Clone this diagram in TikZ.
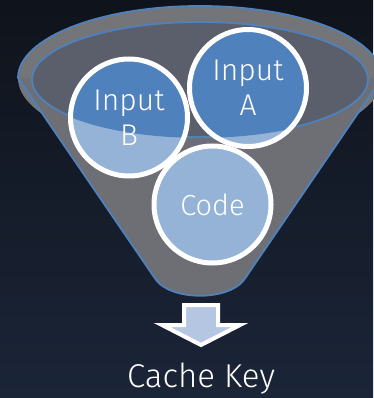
\documentclass[tikz,border=0pt]{standalone}
\usepackage{fontspec}
\setmainfont{Fira Sans}[UprightFont={* Light}]
\definecolor{bgtop}{HTML}{0F131B}
\definecolor{bgbot}{HTML}{1B2538}
\definecolor{rim}{HTML}{737578}
\definecolor{innerfill}{HTML}{5A5F6B}
\definecolor{body}{HTML}{6D6F74}
\definecolor{fline}{HTML}{4F81BD}
\definecolor{darkblue}{HTML}{4F81BD}
\definecolor{lightblue}{HTML}{95B3D7}
\definecolor{arrowfill}{HTML}{B4C6E1}
\tikzset{
  funnelline/.style={draw=fline, line width=1.8pt},
  ring/.style={circle, draw=white, line width=5pt, minimum size=117pt, inner sep=0pt,
    text=white, align=center, font=\fontsize{30}{35}\selectfont},
  keyarrow/.style={draw=white, fill=arrowfill, line width=4pt, line join=miter},
  caption/.style={text=white, font=\fontsize{33}{38}\selectfont, inner sep=0pt}
}
\begin{document}
\begin{tikzpicture}[x=1pt,y=-1pt]
\useasboundingbox (0,0) rectangle (373,398);
\shade[top color=bgtop, bottom color=bgbot] (0,0) rectangle (373,398);
% centres
\coordinate (cA) at (248,88);
\coordinate (cB) at (129,117.5);
\coordinate (cC) at (212.5,204.5);
\coordinate (ec) at (200,79.5);
% funnel body
\path[fill=rim] (200,78) ellipse [x radius=182, y radius=72];
\path[fill=body] (18,78) -- (382,78) -- (246,277) .. controls (232,302) and (168,302) .. (154,277) -- cycle;
\path[fill=innerfill] (ec) ellipse [x radius=168, y radius=57.5];
\draw[funnelline] (18,78) arc [start angle=180, end angle=360, x radius=182, y radius=72]
  -- (246,277) .. controls (232,302) and (168,302) .. (154,277) -- cycle;
% circle fills
\foreach \c in {cA,cB,cC} \fill[lightblue] (\c) circle (58.5);
\begin{scope}
  \clip (ec) ellipse [x radius=168, y radius=57.5];
  \foreach \c in {cA,cB,cC} \fill[darkblue] (\c) circle (58.5);
\end{scope}
\draw[funnelline] (ec) ellipse [x radius=168, y radius=57.5];
% rings with labels
\node[ring] (inB) at (cB) {Input\\B};
\node[ring] (inA) at (cA) {Input\\A};
\node[ring] (code) at (cC) {\fontsize{29}{34}\selectfont Code};
% arrow
\draw[keyarrow] (184,305) -- (218,305) -- (218,325) -- (240,325) -- (201,345) -- (162,325) -- (184,325) -- cycle;
\node[caption, anchor=base] (key) at (201,387) {Cache Key};
\end{tikzpicture}
\end{document}
